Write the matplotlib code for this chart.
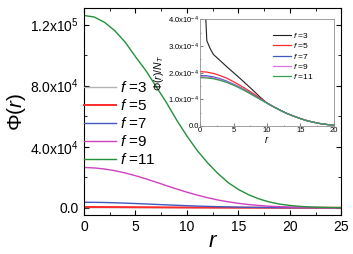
import matplotlib
matplotlib.use("Agg")
import matplotlib.pyplot as plt
from matplotlib.ticker import MultipleLocator, FuncFormatter

plt.rcParams['font.family'] = ['Liberation Sans', 'DejaVu Sans']
plt.rcParams['mathtext.fontset'] = 'custom'
plt.rcParams['mathtext.rm'] = 'Liberation Sans'
plt.rcParams['mathtext.it'] = 'Liberation Sans:italic'

# main panel: Phi(r), r = 0..25
r_main = list(range(26))
phi_f3 = [70, 69, 67, 64, 60, 55, 50, 44, 38, 32, 26, 21, 16, 12, 9, 6, 4, 3, 2, 1, 1, 0, 0, 0, 0, 0]
phi_f5 = [500, 495, 480, 455, 425, 390, 350, 310, 265, 225, 185, 150, 118, 90, 68, 50, 36, 25, 17, 11, 7, 4, 3, 2, 1, 1]
phi_f7 = [3600, 3560, 3450, 3270, 3040, 2780, 2500, 2200, 1900, 1620, 1350, 1110, 900, 710, 550, 420, 310, 225, 160, 110, 75, 50, 32, 20, 12, 8]
phi_f9 = [26400, 26100, 25400, 24300, 22800, 21000, 19000, 16800, 14500, 12300, 10200, 8300, 6600, 5100, 3900,
          2900, 2100, 1500, 1000, 700, 450, 300, 180, 100, 60, 30]
phi_f11 = [126000, 125000, 121500, 116000, 108500, 99000, 90000, 79500, 69000, 57500, 47000, 37500, 29500, 22500,
           16500, 12000, 8500, 5800, 3800, 2400, 1500, 900, 500, 300, 150, 80]

# inset: Phi(r)/N_T (units of 1e-4), r = 0..20
r_in = list(range(21))
r_in_f3 = [0.6, 0.85, 1.0, 1.5, 2, 3, 4, 5, 6, 7, 8, 9, 10, 11, 12, 13, 14, 15, 16, 17, 18, 19, 20]
n_f3 = [5.0, 4.0, 3.2, 2.9, 2.68, 2.45, 2.22, 2.0, 1.78, 1.55, 1.32, 1.08, 0.86, 0.72, 0.59, 0.47, 0.37, 0.28, 0.20,
        0.14, 0.09, 0.055, 0.03]
n_f5 = [2.04, 2.02, 1.97, 1.89, 1.79, 1.66, 1.52, 1.37, 1.21, 1.04, 0.87, 0.72, 0.59, 0.47, 0.37, 0.28, 0.20, 0.14,
        0.09, 0.055, 0.03]
n_f7 = [1.89, 1.88, 1.84, 1.77, 1.68, 1.57, 1.45, 1.31, 1.16, 1.01, 0.86, 0.72, 0.59, 0.47, 0.37, 0.28, 0.20, 0.14,
        0.09, 0.055, 0.03]
n_f9 = [1.85, 1.84, 1.80, 1.74, 1.65, 1.55, 1.43, 1.29, 1.14, 1.00, 0.86, 0.72, 0.59, 0.47, 0.37, 0.28, 0.20, 0.14,
        0.09, 0.055, 0.03]
n_f11 = [1.81, 1.80, 1.77, 1.71, 1.63, 1.53, 1.41, 1.28, 1.14, 1.00, 0.86, 0.72, 0.59, 0.47, 0.37, 0.28, 0.20, 0.14,
         0.09, 0.055, 0.03]

labels = ['$f$ =3', '$f$ =5', '$f$ =7', '$f$ =9', '$f$ =11']
main_colors = ['#b4b4b4', '#ff2a2a', '#4058c0', '#d040c0', '#22913a']
inset_colors = ['#202020', '#ff2a2a', '#4058c0', '#e070e0', '#30a050']


def sci_fmt(v, pos):
    if v == 0:
        return '0.0'
    exp = int(f'{v:e}'.split('e')[1])
    mant = v / 10 ** exp
    return r'$%.1f\mathrm{x}10^{%d}$' % (mant, exp)


fig = plt.figure(figsize=(3.53, 2.54), dpi=100)
ax = fig.add_axes([0.238, 0.152, 0.729, 0.817])

main_data = [phi_f3, phi_f5, phi_f7, phi_f9, phi_f11]
for vals, c, lab in zip(main_data, main_colors, labels):
    lw = 1.4 if c == '#ff2a2a' else 1.0
    ax.plot(r_main, vals, color=c, lw=lw, label=lab)

ax.set_xlim(0, 25)
ax.set_ylim(-5000, 131000)
ax.xaxis.set_major_locator(MultipleLocator(5))
ax.xaxis.set_minor_locator(MultipleLocator(2.5))
ax.yaxis.set_major_locator(MultipleLocator(40000))
ax.yaxis.set_minor_locator(MultipleLocator(20000))
ax.yaxis.set_major_formatter(FuncFormatter(sci_fmt))
ax.tick_params(which='both', direction='in', top=True, right=True, labelsize=10)
ax.tick_params(which='major', length=3.5)
ax.tick_params(which='minor', length=2)
ax.set_xlabel('$r$', fontsize=16, labelpad=-2)
ax.set_ylabel(r'$\Phi(r)$', fontsize=15, labelpad=2)

ax.legend(loc='center left', bbox_to_anchor=(0.0, 0.442), frameon=False, fontsize=11,
          handlelength=2.1, handletextpad=0.25, labelspacing=0.2, borderpad=0, borderaxespad=0)

# inset
ins = fig.add_axes([0.567, 0.504, 0.378, 0.420])
ins.plot(r_in_f3, [v * 1e-4 for v in n_f3], color=inset_colors[0], lw=0.8, label=labels[0])
for vals, c, lab in zip([n_f5, n_f7, n_f9, n_f11], inset_colors[1:], labels[1:]):
    ins.plot(r_in, [v * 1e-4 for v in vals], color=c, lw=0.9, label=lab)
ins.set_xlim(0, 20)
ins.set_ylim(0, 4e-4)
ins.xaxis.set_major_locator(MultipleLocator(5))
ins.xaxis.set_minor_locator(MultipleLocator(2.5))
ins.yaxis.set_major_locator(MultipleLocator(1e-4))
ins.yaxis.set_minor_locator(MultipleLocator(0.5e-4))
ins.yaxis.set_major_formatter(FuncFormatter(sci_fmt))
ins.tick_params(which='both', direction='in', labelsize=5.5, pad=1, color='#808080')
ins.tick_params(which='major', length=2)
ins.tick_params(which='minor', length=1)
for s in ins.spines.values():
    s.set_color('#909090')
    s.set_linewidth(0.6)
ins.set_xlabel('$r$', fontsize=7, labelpad=0)
ins.set_ylabel(r'$\Phi(r)/N_T$', fontsize=7.5, labelpad=1)
ins.legend(loc='upper right', bbox_to_anchor=(0.85, 0.89), frameon=False, fontsize=6,
           handlelength=2.2, handletextpad=0.2, labelspacing=0.15, borderpad=0, borderaxespad=0)

fig.savefig('out.png', dpi=100)
